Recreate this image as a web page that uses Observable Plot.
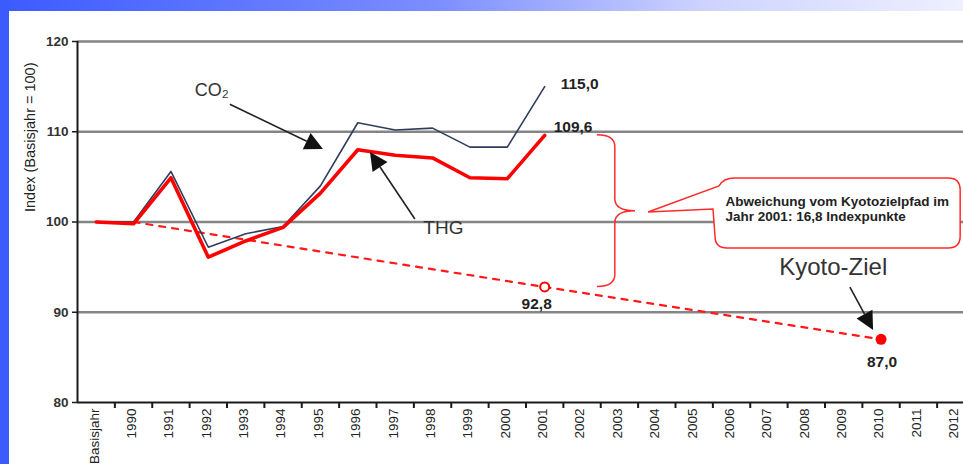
<!DOCTYPE html>
<html><head><meta charset="utf-8">
<script src="https://cdn.jsdelivr.net/npm/d3@7"></script>
<script src="https://cdn.jsdelivr.net/npm/@observablehq/plot@0.6"></script>
<style>
html,body{margin:0;padding:0;background:#fff;}
#wrap{position:relative;width:963px;height:464px;overflow:hidden;background:#fff;}
#topbar{position:absolute;left:0;top:0;width:963px;height:11px;background:linear-gradient(to right,#3c5bff 0%,#7b8dff 45%,#cdd3ff 73%,#eef0ff 100%);}
#leftbar{position:absolute;left:0;top:0;width:9px;height:464px;background:#3c5bff;}
#chart{position:absolute;left:0;top:0;}
</style></head><body>
<div id="wrap"><div id="topbar"></div><div id="leftbar"></div><div id="chart"></div></div>
<script>
// ---- data ----
const xLabels = ["Basisjahr","1990","1991","1992","1993","1994","1995","1996","1997","1998","1999","2000","2001","2002","2003","2004","2005","2006","2007","2008","2009","2010","2011","2012"];
const xYears = d3.range(1989, 2013);           // "Basisjahr" plotted at slot 1989
const seriesYears = xYears.slice(0, 13);        // Basisjahr .. 2001
const co2Values = [100.0, 100.0, 105.6, 97.2, 98.7, 99.5, 104.0, 111.0, 110.2, 110.4, 108.3, 108.3, 115.0];
const thgValues = [100.0, 99.8, 104.9, 96.1, 97.9, 99.4, 103.2, 108.0, 107.4, 107.1, 104.9, 104.8, 109.6];
const kyotoYears = [1990, 2001, 2010];
const kyotoValues = [100.0, 92.8, 87.0];
const yTicks = [80, 90, 100, 110, 120];
const yLabel = "Index (Basisjahr = 100)";

// annotation anchors (data units)
const notes = [
  {text: "CO₂", x: 1992.09, y: 114.6},
  {text: "THG", x: 1998.29, y: 99.4},
  {text: "Kyoto-Ziel", x: 2008.72, y: 94.96}
];
const arrows = [
  {x1: 1992.59, y1: 113.0, x2: 1995.08, y2: 108.03},
  {x1: 1997.54, y1: 100.28, x2: 1996.34, y2: 107.7},
  {x1: 2009.18, y1: 92.74, x2: 2009.8, y2: 87.98}
];
const brace = {xs: [2002.41, 2002.89, 2003.43]};
const callout = {x1: 2005.57, x2: 2012.13, y1: 104.82, y2: 97.06, tipX: 2003.78, tipY: 101.05, textX: 2005.84, textY: [102.2, 100.6]};

// ---- tables ----
const co2Data = seriesYears.map((x, i) => ({x, v: co2Values[i]}));
const thgData = seriesYears.map((x, i) => ({x, v: thgValues[i]}));
const kyotoData = kyotoYears.map((x, i) => ({x, v: kyotoValues[i]}));
const boundaries = xYears.slice(1).map(y => y - 0.5);
const fmt = v => d3.format(".1f")(v).replace(".", ",");
const gap = thgValues[12] - kyotoValues[1];
const calloutLines = ["Abweichung vom Kyotozielpfad im", `Jahr 2001: ${fmt(gap)} Indexpunkte`];

function drawShapes(index, scales) {
  const sx = scales.x, sy = scales.y;
  const ns = "http://www.w3.org/2000/svg";
  const g = document.createElementNS(ns, "g");
  const add = (tag, attrs) => { const e = document.createElementNS(ns, tag); for (const k in attrs) e.setAttribute(k, attrs[k]); g.appendChild(e); return e; };
  // brace
  const [bx0, bx1, bx2] = brace.xs.map(sx);
  const yt = sy(thgValues[12]), yb = sy(kyotoValues[1]), ym = (yt + yb) / 2, r = 12;
  add("path", {d: `M${bx0},${yt} Q${bx1},${yt} ${bx1},${yt + r} L${bx1},${ym - r} Q${bx1},${ym} ${bx2},${ym} Q${bx1},${ym} ${bx1},${ym + r} L${bx1},${yb - r} Q${bx1},${yb} ${bx0},${yb}`,
    fill: "none", stroke: "#ff2a2a", "stroke-width": 1.5});
  // callout
  const xl = sx(callout.x1), xr = sx(callout.x2), ct = sy(callout.y1), cb = sy(callout.y2);
  const tx = sx(callout.tipX), ty = sy(callout.tipY), cr = 12;
  add("path", {d: `M${tx},${ty} L${xl + 4},${ct + 8} Q${xl + 8},${ct} ${xl + cr + 8},${ct} L${xr - cr},${ct} Q${xr},${ct} ${xr},${ct + cr} L${xr},${cb - cr} Q${xr},${cb} ${xr - cr},${cb} L${xl + cr},${cb} Q${xl},${cb} ${xl},${cb - cr} L${xl - 2},${ct + 31} Z`,
    fill: "#fff", stroke: "#ff2a2a", "stroke-width": 1.5});
  // arrows
  for (const a of arrows) {
    const x1 = sx(a.x1), y1 = sy(a.y1), x2 = sx(a.x2), y2 = sy(a.y2);
    const ang = Math.atan2(y2 - y1, x2 - x1), L = 18, W = 9;
    const hx = x2 - L * Math.cos(ang), hy = y2 - L * Math.sin(ang);
    add("line", {x1, y1, x2: hx, y2: hy, stroke: "#222", "stroke-width": 1.6});
    const px = -Math.sin(ang) * W, py = Math.cos(ang) * W;
    add("polygon", {points: `${x2},${y2} ${hx + px},${hy + py} ${hx - px},${hy - py}`, fill: "#111"});
  }
  return g;
}

const FONT = "'Liberation Sans', Arial, sans-serif";
const chart = Plot.plot({
  width: 963, height: 464,
  marginTop: 41, marginBottom: 62, marginLeft: 77, marginRight: 0,
  style: {background: "transparent", fontFamily: FONT},
  x: {type: "linear", domain: [1988.5, 2012.5], range: [77, 974], label: null},
  y: {domain: [80, 120], label: null},
  marks: [
    Plot.ruleY(yTicks.filter(t => t > 80), {stroke: "#858585", strokeWidth: 2.5}),
    Plot.ruleY([80], {stroke: "#1a1a1a", strokeWidth: 2}),
    Plot.ruleX([1988.5], {stroke: "#1a1a1a", strokeWidth: 2}),
    Plot.axisY({ticks: yTicks, tickSize: 5, tickPadding: 4, fontSize: 13.5, fontWeight: "bold", fill: "#333", stroke: "#1a1a1a", strokeWidth: 1.5, label: null}),
    Plot.axisX({ticks: xYears, tickFormat: d => xLabels[xYears.indexOf(d)], tickRotate: -90, tickSize: 0, tickPadding: 6, fontSize: 13.5, fill: "#222", dx: -2, label: null}),
    Plot.axisX(boundaries, {tickSize: 6, tickFormat: () => "", fill: "none", stroke: "#1a1a1a", strokeWidth: 2, label: null}),
    Plot.text([yLabel], {frameAnchor: "left", rotate: -90, dx: -47, dy: -10, fontSize: 14.5, fill: "#222"}),
    Plot.line(kyotoData, {x: "x", y: "v", stroke: "#ff1a1a", strokeWidth: 2.2, strokeDasharray: "6,7"}),
    Plot.line(co2Data, {x: "x", y: "v", stroke: "#2f3d5c", strokeWidth: 1.6}),
    Plot.line(thgData, {x: "x", y: "v", stroke: "#ff0000", strokeWidth: 3.6}),
    Plot.dot([kyotoData[1]], {x: "x", y: "v", r: 4.5, stroke: "#ff0000", fill: "#fff", strokeWidth: 2}),
    Plot.dot([kyotoData[2]], {x: "x", y: "v", r: 5.5, fill: "#ff0000"}),
    Plot.text([co2Data[12]], {x: "x", y: "v", text: d => fmt(d.v), dx: 16, dy: -3, textAnchor: "start", fontSize: 15.5, fontWeight: "bold", fill: "#222"}),
    Plot.text([thgData[12]], {x: "x", y: "v", text: d => fmt(d.v), dx: 9, dy: -8, textAnchor: "start", fontSize: 15.5, fontWeight: "bold", fill: "#222"}),
    Plot.text([kyotoData[1]], {x: "x", y: "v", text: d => fmt(d.v), dx: -8, dy: 17, fontSize: 15.5, fontWeight: "bold", fill: "#222"}),
    Plot.text([kyotoData[2]], {x: "x", y: "v", text: d => fmt(d.v), dx: 1, dy: 23, fontSize: 15.5, fontWeight: "bold", fill: "#222"}),
    drawShapes,
    Plot.text(calloutLines, {x: () => callout.textX, y: (d, i) => callout.textY[i], text: d => d, textAnchor: "start", fontSize: 13.5, fontWeight: "bold", fill: "#222"}),
    Plot.text([notes[0]], {x: "x", y: "y", text: "text", fontSize: 18, fill: "#333"}),
    Plot.text([notes[1]], {x: "x", y: "y", text: "text", fontSize: 19, fill: "#333"}),
    Plot.text([notes[2]], {x: "x", y: "y", text: "text", fontSize: 24, fill: "#333"})
  ]
});
document.getElementById("chart").appendChild(chart);
</script></body></html>
